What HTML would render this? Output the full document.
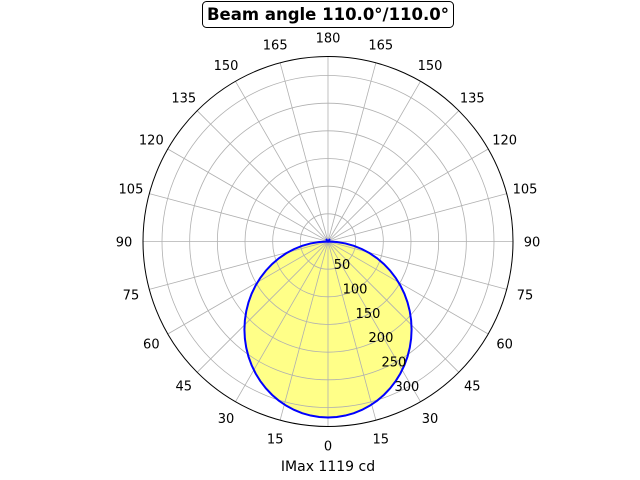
<!DOCTYPE html>
<html><head><meta charset="utf-8"><style>
html,body{margin:0;padding:0;background:#fff;}
svg{display:block;font-family:"DejaVu Sans","Liberation Sans",sans-serif;}
</style></head><body>
<svg id="s" width="640" height="480" viewBox="0 0 640 480" xmlns="http://www.w3.org/2000/svg">
<rect width="640" height="480" fill="#fff"/>
<g id="poly"></g>
<g id="grid" stroke="#b0b0b0" stroke-width="0.8" fill="none"></g>
<g id="curve"></g>
<circle cx="328" cy="241.5" r="185" fill="none" stroke="#000" stroke-width="1"/>
<g id="labels" font-size="13" fill="#000" text-anchor="middle"></g>
<rect x="202.5" y="1.5" width="251" height="26" rx="4" fill="#fff" stroke="#000" stroke-width="1"/>
<text x="328" y="20" font-size="16.5" font-weight="bold" text-anchor="middle">Beam angle 110.0°/110.0°</text>
<text x="328" y="471" font-size="14" text-anchor="middle">IMax 1119 cd</text>
</svg>
<script>
const cx=328,cy=241.5,R=185,k=166/300,NS="http://www.w3.org/2000/svg";
function el(t,a,p,txt){const e=document.createElementNS(NS,t);for(const q in a)e.setAttribute(q,a[q]);if(txt!==undefined)e.textContent=txt;document.getElementById(p).appendChild(e);return e;}
for(let v=50;v<=300;v+=50)el('circle',{cx,cy,r:v*k},'grid');
for(let a=0;a<360;a+=15){const t=a*Math.PI/180;el('line',{x1:cx,y1:cy,x2:cx+R*Math.sin(t),y2:cy+R*Math.cos(t)},'grid');}
let pts=[];
for(let a=-90;a<=90;a+=3){const t=a*Math.PI/180;let r=318*Math.cos(t);pts.push([cx+0.95*r*k*Math.sin(t),cy+r*k*Math.cos(t)]);}
let d='M'+pts.map(p=>p[0].toFixed(2)+','+p[1].toFixed(2)).join(' L');
d='M326,239 L328,241.5 L330,239 '+d.replace('M','L')+' Z';
el('path',{d,fill:'#ffff88',stroke:'none'},'poly');
el('path',{d,fill:'none',stroke:'#0000ff','stroke-width':2},'curve');
for(let a=0;a<=180;a+=15){for(const s of (a==0||a==180)?[1]:[1,-1]){const t=s*a*Math.PI/180;el('text',{x:cx+204*Math.sin(t),y:cy+204*Math.cos(t)+5},'labels',String(a));}}
const lt=28*Math.PI/180;
for(let v=50;v<=300;v+=50){const r=v*k;el('text',{x:cx+r*Math.sin(lt)+1,y:cy+r*Math.cos(lt)+3},'labels',String(v));}
</script>
</body></html>
